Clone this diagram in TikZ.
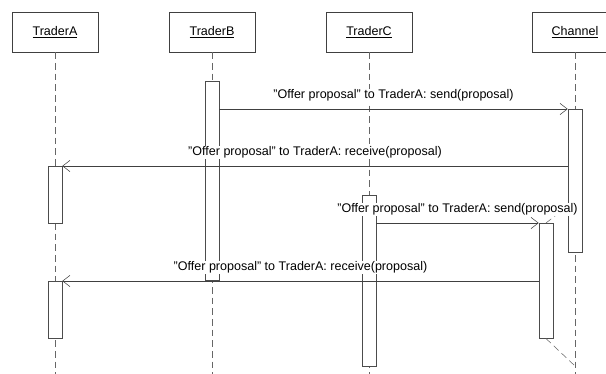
\documentclass[tikz,border=0pt]{standalone}
\usepackage{fontspec}
\setmainfont{Liberation Sans}
\usetikzlibrary{arrows.meta}

\begin{document}
\begin{tikzpicture}[x=0.75pt,y=-0.75pt,font=\fontsize{9.4}{11}\selectfont,
    obj/.style={draw=black!75,minimum width=64.5pt,minimum height=30pt,inner sep=0pt},
    life/.style={draw=black!60,dash pattern=on 5pt off 3pt},
    bar/.style={draw=black!70,fill=white,minimum width=10.5pt,inner sep=0pt,anchor=north},
    msg/.style={draw=black!75,-{Straight Barb[length=5.5pt,width=8.5pt]}},
    txt/.style={fill=white,inner sep=0.5pt,anchor=south,yshift=5.4pt}]
  \useasboundingbox (0,0) rectangle (606,374);

  % objects
  \node[obj] (ta) at (55,32) {\underline{TraderA}};
  \node[obj] (tb) at (212,32) {\underline{TraderB}};
  \node[obj] (tc) at (369,32) {\underline{TraderC}};
  \node[obj] (ch) at (575,32) {\underline{Channel}};

  % lifelines
  \draw[life] (ta.south) -- (ta.south |- 0,374);
  \draw[life] (tb.south) -- (tb.south |- 0,374);
  \draw[life] (tc.south) -- (tc.south |- 0,374);
  \draw[life] (ch.south) -- (ch.south |- 0,374);

  % activations
  \node[bar,minimum height=149.25pt] (bb) at (212,81) {};
  \node[bar,minimum height=107.25pt] (bch) at (575,109) {};
  \node[bar,minimum height=42.75pt] (ba1) at (55,166) {};
  \node[bar,minimum height=128.25pt] (bc) at (369,195) {};
  \node[bar,minimum height=86.25pt] (bch2) at (546,223) {};
  \node[bar,minimum height=42.75pt] (ba2) at (55,281) {};
  \coordinate (chtop) at (bch.west |- 0,206);
  \coordinate (chend) at (575,366);
  \draw[life] (bch2.north) -- (chtop);
  \draw[life] (bch2.south) -- (chend);

  % messages
  \draw[msg] (bb.east |- bch.north) -- node[txt] {"Offer proposal" to TraderA: send(proposal)} (bch.north west);
  \draw[msg] (bch.west |- ba1.north) -- node[txt] {"Offer proposal" to TraderA: receive(proposal)} (ba1.north east);
  \draw[msg] (bc.east |- bch2.north) -- node[txt] {"Offer proposal" to TraderA: send(proposal)} (bch2.north west);
  \draw[msg] (bch2.west |- ba2.north) -- node[txt] {"Offer proposal" to TraderA: receive(proposal)} (ba2.north east);
\end{tikzpicture}
\end{document}
